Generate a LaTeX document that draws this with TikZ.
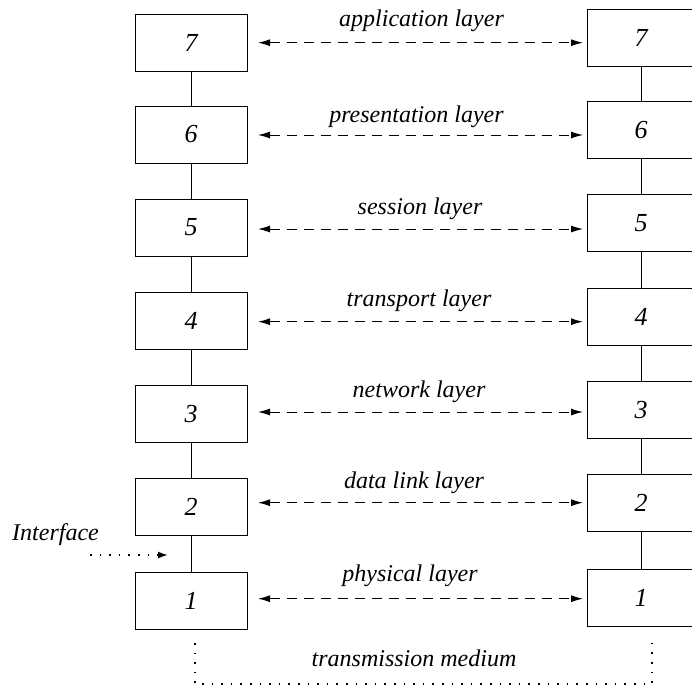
\documentclass[tikz,border=0pt]{standalone}
\usepackage{fontspec}
\setmainfont{Liberation Serif}
\usetikzlibrary{arrows.meta}
\tikzset{
  layerbox/.style={draw, line width=1pt, minimum height=57pt, inner sep=0pt, font=\fontsize{26}{30}\selectfont\itshape},
  lbox/.style={layerbox, minimum width=112pt},
  rbox/.style={layerbox, minimum width=108pt},
  link/.style={line width=1pt},
  peer/.style={line width=1pt, dash pattern=on 10pt off 7pt, {Latex[length=12pt,width=7pt]}-{Latex[length=12pt,width=7pt]}},
  lab/.style={anchor=base, inner sep=0pt, font=\fontsize{24}{28}\selectfont\itshape},
  dotline/.style={line width=1.6pt, dash pattern=on 1.6pt off 8pt},
}
\begin{document}
\begin{tikzpicture}[x=1pt,y=-1pt]
\useasboundingbox (0,0) rectangle (692,686);
\clip (0,0) rectangle (692,686);
% left stack
\node[lbox] (L7) at (191,42.5) {7};
\node[lbox] (L6) at (191,134.5) {6};
\node[lbox] (L5) at (191,227.5) {5};
\node[lbox] (L4) at (191,321) {4};
\node[lbox] (L3) at (191,414) {3};
\node[lbox] (L2) at (191,507) {2};
\node[lbox] (L1) at (191,601.3) {1};
% right stack
\node[rbox] (R7) at (641,38.3) {7};
\node[rbox] (R6) at (641,130) {6};
\node[rbox] (R5) at (641,223) {5};
\node[rbox] (R4) at (641,316.7) {4};
\node[rbox] (R3) at (641,410) {3};
\node[rbox] (R2) at (641,503.3) {2};
\node[rbox] (R1) at (641,597.7) {1};
% vertical links
\draw[link] (L7) -- (L6) (L6) -- (L5) (L5) -- (L4) (L4) -- (L3) (L3) -- (L2) (L2) -- (L1);
\draw[link] (R7) -- (R6) (R6) -- (R5) (R5) -- (R4) (R4) -- (R3) (R3) -- (R2) (R2) -- (R1);
% peer arrows
\coordinate (a7l) at (258,42.7);  \coordinate (a7r) at (583,42.7);
\coordinate (a6l) at (258,135);   \coordinate (a6r) at (583,135);
\coordinate (a5l) at (258,229);   \coordinate (a5r) at (583,229);
\coordinate (a4l) at (258,321.7); \coordinate (a4r) at (583,321.7);
\coordinate (a3l) at (258,412);   \coordinate (a3r) at (583,412);
\coordinate (a2l) at (258,502.7); \coordinate (a2r) at (583,502.7);
\coordinate (a1l) at (258,598.7); \coordinate (a1r) at (583,598.7);
\draw[peer] (a7l) -- (a7r);
\draw[peer] (a6l) -- (a6r);
\draw[peer] (a5l) -- (a5r);
\draw[peer] (a4l) -- (a4r);
\draw[peer] (a3l) -- (a3r);
\draw[peer] (a2l) -- (a2r);
\draw[peer] (a1l) -- (a1r);
% labels
\node[lab] (t7) at (421.5,26.7) {application layer};
\node[lab] (t6) at (416.5,122.3) {presentation layer};
\node[lab] (t5) at (420,214) {session layer};
\node[lab] (t4) at (419,306.7) {transport layer};
\node[lab] (t3) at (419,397) {network layer};
\node[lab] (t2) at (414,488) {data link layer};
\node[lab] (t1) at (410,581.7) {physical layer};
\node[lab] (tm) at (414,666.7) {transmission medium};
% interface
\node[lab, anchor=base west] (itf) at (12,540) {Interface};
\coordinate (if1) at (90,555);
\coordinate (if2) at (168,555);
\draw[dotline, -{Latex[length=10pt,width=7pt]}] (if1) -- (if2);
% transmission medium
\coordinate (ml) at (195,643);
\coordinate (mb) at (195,684);
\coordinate (mr) at (652,684);
\coordinate (mt) at (652,636);
\draw[dotline] (ml) -- (mb) -- (mr) -- (mt);
\end{tikzpicture}
\end{document}
